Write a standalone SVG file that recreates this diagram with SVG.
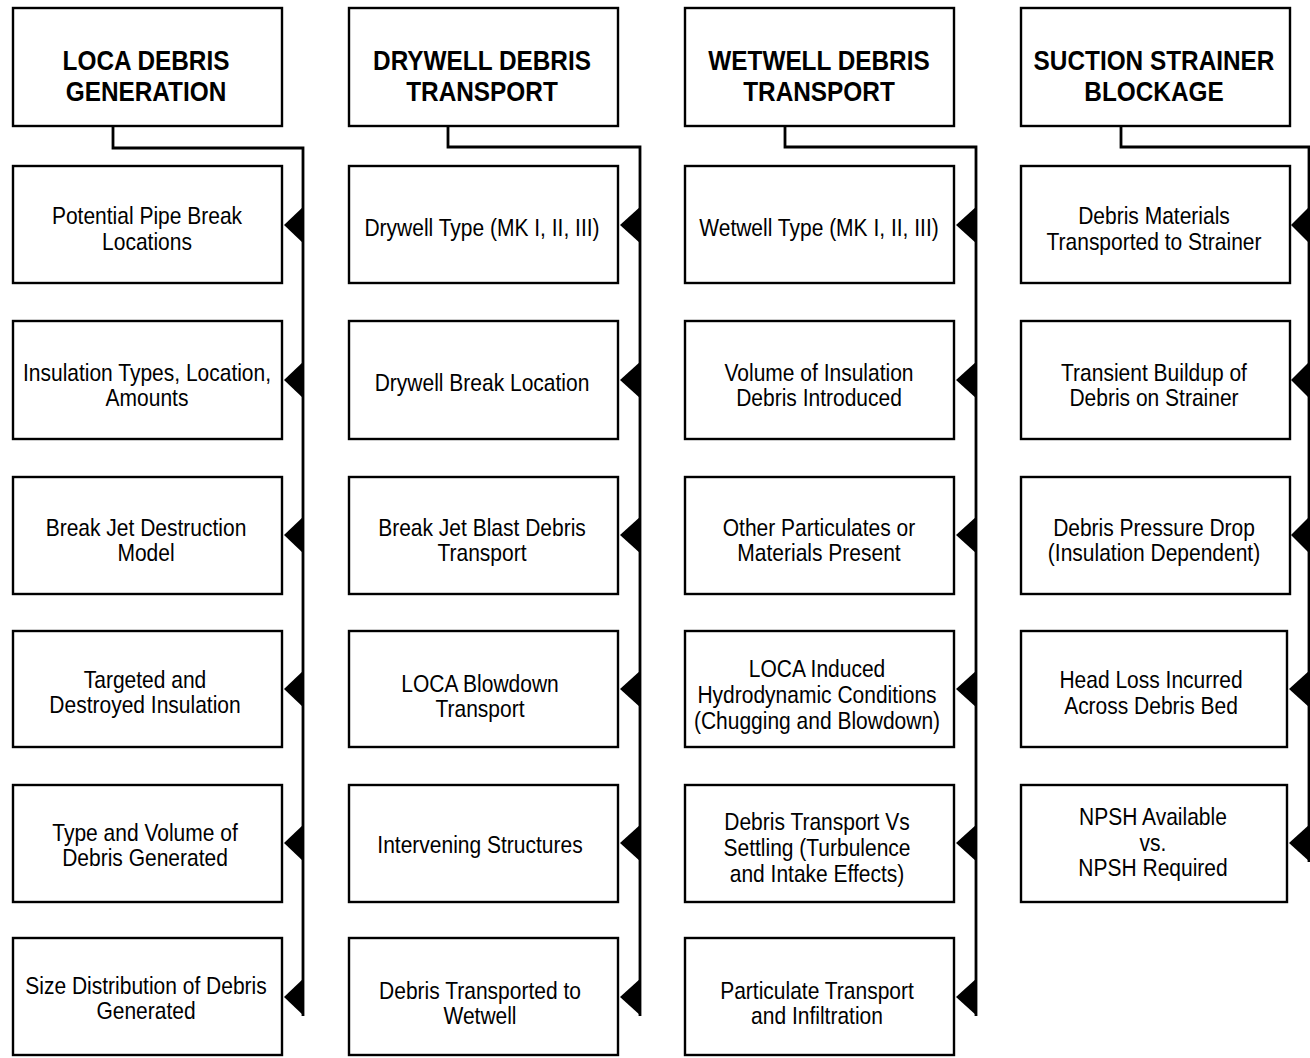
<svg xmlns="http://www.w3.org/2000/svg" width="1310" height="1058" viewBox="0 0 1310 1058">
<style>
.box{fill:#fff;stroke:#000;stroke-width:2.4}
.h{font-family:"Liberation Sans",Arial,sans-serif;font-weight:bold;font-size:28px;text-anchor:middle;fill:#000}
.t{font-family:"Liberation Sans",Arial,sans-serif;font-size:24px;text-anchor:middle;fill:#000}
.c{fill:none;stroke:#000;stroke-width:2.8}
.a{fill:#000}
</style>
<rect width="1310" height="1058" fill="#fff"/>
<g id="connectors">
<path class="c" d="M113,126 V148 H303 V1016"/>
<path class="c" d="M448,126 V147 H640 V1016"/>
<path class="c" d="M785,126 V147 H976 V1016"/>
<path class="c" d="M1121,126 V147 H1309 V862"/>
<g class="a">
<polygon points="284,225 304,206 304,244"/>
<polygon points="284,380 304,361 304,399"/>
<polygon points="284,535 304,516 304,554"/>
<polygon points="284,689 304,670 304,708"/>
<polygon points="284,843 304,824 304,862"/>
<polygon points="284,997 304,978 304,1016"/>
<polygon points="620,225 641,206 641,244"/>
<polygon points="620,380 641,361 641,399"/>
<polygon points="620,535 641,516 641,554"/>
<polygon points="620,689 641,670 641,708"/>
<polygon points="620,843 641,824 641,862"/>
<polygon points="620,997 641,978 641,1016"/>
<polygon points="956,225 977,206 977,244"/>
<polygon points="956,380 977,361 977,399"/>
<polygon points="956,535 977,516 977,554"/>
<polygon points="956,689 977,670 977,708"/>
<polygon points="956,843 977,824 977,862"/>
<polygon points="956,997 977,978 977,1016"/>
<polygon points="1291,225 1310,206 1310,244"/>
<polygon points="1291,380 1310,361 1310,399"/>
<polygon points="1291,535 1310,516 1310,554"/>
<polygon points="1289,689 1310,670 1310,708"/>
<polygon points="1289,843 1310,824 1310,862"/>
</g>
</g>
<!-- Column 1 -->
<g id="h1"><rect class="box" x="13" y="8" width="269" height="118"/>
<text class="h" transform="matrix(0.87 0 0 1 146 0)"><tspan x="0" y="70">LOCA DEBRIS</tspan><tspan x="0" y="101">GENERATION</tspan></text></g>
<g id="n1-1"><rect class="box" x="13" y="166" width="269" height="117"/>
<text class="t" transform="matrix(0.875 0 0 1 147 0)"><tspan x="0" y="224">Potential Pipe Break</tspan><tspan x="0" y="250">Locations</tspan></text></g>
<g id="n1-2"><rect class="box" x="13" y="321" width="269" height="118"/>
<text class="t" transform="matrix(0.875 0 0 1 147 0)"><tspan x="0" y="381">Insulation Types, Location,</tspan><tspan x="0" y="406">Amounts</tspan></text></g>
<g id="n1-3"><rect class="box" x="13" y="477" width="269" height="117"/>
<text class="t" transform="matrix(0.875 0 0 1 146 0)"><tspan x="0" y="536">Break Jet Destruction</tspan><tspan x="0" y="561">Model</tspan></text></g>
<g id="n1-4"><rect class="box" x="13" y="631" width="269" height="116"/>
<text class="t" transform="matrix(0.875 0 0 1 145 0)"><tspan x="0" y="688">Targeted and</tspan><tspan x="0" y="713">Destroyed Insulation</tspan></text></g>
<g id="n1-5"><rect class="box" x="13" y="785" width="269" height="117"/>
<text class="t" transform="matrix(0.875 0 0 1 145 0)"><tspan x="0" y="841">Type and Volume of</tspan><tspan x="0" y="866">Debris Generated</tspan></text></g>
<g id="n1-6"><rect class="box" x="13" y="938" width="269" height="117"/>
<text class="t" transform="matrix(0.875 0 0 1 146 0)"><tspan x="0" y="994">Size Distribution of Debris</tspan><tspan x="0" y="1019">Generated</tspan></text></g>
<!-- Column 2 -->
<g id="h2"><rect class="box" x="349" y="8" width="269" height="118"/>
<text class="h" transform="matrix(0.87 0 0 1 482 0)"><tspan x="0" y="70">DRYWELL DEBRIS</tspan><tspan x="0" y="101">TRANSPORT</tspan></text></g>
<g id="n2-1"><rect class="box" x="349" y="166" width="269" height="117"/>
<text class="t" transform="matrix(0.875 0 0 1 482 0)"><tspan x="0" y="236">Drywell Type (MK I, II, III)</tspan></text></g>
<g id="n2-2"><rect class="box" x="349" y="321" width="269" height="118"/>
<text class="t" transform="matrix(0.875 0 0 1 482 0)"><tspan x="0" y="391">Drywell Break Location</tspan></text></g>
<g id="n2-3"><rect class="box" x="349" y="477" width="269" height="117"/>
<text class="t" transform="matrix(0.875 0 0 1 482 0)"><tspan x="0" y="536">Break Jet Blast Debris</tspan><tspan x="0" y="561">Transport</tspan></text></g>
<g id="n2-4"><rect class="box" x="349" y="631" width="269" height="116"/>
<text class="t" transform="matrix(0.875 0 0 1 480 0)"><tspan x="0" y="692">LOCA Blowdown</tspan><tspan x="0" y="717">Transport</tspan></text></g>
<g id="n2-5"><rect class="box" x="349" y="785" width="269" height="117"/>
<text class="t" transform="matrix(0.875 0 0 1 480 0)"><tspan x="0" y="853">Intervening Structures</tspan></text></g>
<g id="n2-6"><rect class="box" x="349" y="938" width="269" height="117"/>
<text class="t" transform="matrix(0.875 0 0 1 480 0)"><tspan x="0" y="999">Debris Transported to</tspan><tspan x="0" y="1024">Wetwell</tspan></text></g>
<!-- Column 3 -->
<g id="h3"><rect class="box" x="685" y="8" width="269" height="118"/>
<text class="h" transform="matrix(0.87 0 0 1 819 0)"><tspan x="0" y="70">WETWELL DEBRIS</tspan><tspan x="0" y="101">TRANSPORT</tspan></text></g>
<g id="n3-1"><rect class="box" x="685" y="166" width="269" height="117"/>
<text class="t" transform="matrix(0.875 0 0 1 819 0)"><tspan x="0" y="236">Wetwell Type (MK I, II, III)</tspan></text></g>
<g id="n3-2"><rect class="box" x="685" y="321" width="269" height="118"/>
<text class="t" transform="matrix(0.875 0 0 1 819 0)"><tspan x="0" y="381">Volume of Insulation</tspan><tspan x="0" y="406">Debris Introduced</tspan></text></g>
<g id="n3-3"><rect class="box" x="685" y="477" width="269" height="117"/>
<text class="t" transform="matrix(0.875 0 0 1 819 0)"><tspan x="0" y="536">Other Particulates or</tspan><tspan x="0" y="561">Materials Present</tspan></text></g>
<g id="n3-4"><rect class="box" x="685" y="631" width="269" height="116"/>
<text class="t" transform="matrix(0.875 0 0 1 817 0)"><tspan x="0" y="677">LOCA Induced</tspan><tspan x="0" y="703">Hydrodynamic Conditions</tspan><tspan x="0" y="729">(Chugging and Blowdown)</tspan></text></g>
<g id="n3-5"><rect class="box" x="685" y="785" width="269" height="117"/>
<text class="t" transform="matrix(0.875 0 0 1 817 0)"><tspan x="0" y="830">Debris Transport Vs</tspan><tspan x="0" y="856">Settling (Turbulence</tspan><tspan x="0" y="882">and Intake Effects)</tspan></text></g>
<g id="n3-6"><rect class="box" x="685" y="938" width="269" height="117"/>
<text class="t" transform="matrix(0.875 0 0 1 817 0)"><tspan x="0" y="999">Particulate Transport</tspan><tspan x="0" y="1024">and Infiltration</tspan></text></g>
<!-- Column 4 -->
<g id="h4"><rect class="box" x="1021" y="8" width="269" height="118"/>
<text class="h" transform="matrix(0.87 0 0 1 1154 0)"><tspan x="0" y="70">SUCTION STRAINER</tspan><tspan x="0" y="101">BLOCKAGE</tspan></text></g>
<g id="n4-1"><rect class="box" x="1021" y="166" width="269" height="117"/>
<text class="t" transform="matrix(0.875 0 0 1 1154 0)"><tspan x="0" y="224">Debris Materials</tspan><tspan x="0" y="250">Transported to Strainer</tspan></text></g>
<g id="n4-2"><rect class="box" x="1021" y="321" width="269" height="118"/>
<text class="t" transform="matrix(0.875 0 0 1 1154 0)"><tspan x="0" y="381">Transient Buildup of</tspan><tspan x="0" y="406">Debris on Strainer</tspan></text></g>
<g id="n4-3"><rect class="box" x="1021" y="477" width="269" height="117"/>
<text class="t" transform="matrix(0.875 0 0 1 1154 0)"><tspan x="0" y="536">Debris Pressure Drop</tspan><tspan x="0" y="561">(Insulation Dependent)</tspan></text></g>
<g id="n4-4"><rect class="box" x="1021" y="631" width="266" height="116"/>
<text class="t" transform="matrix(0.875 0 0 1 1151 0)"><tspan x="0" y="688">Head Loss Incurred</tspan><tspan x="0" y="714">Across Debris Bed</tspan></text></g>
<g id="n4-5"><rect class="box" x="1021" y="785" width="266" height="117"/>
<text class="t" transform="matrix(0.875 0 0 1 1153 0)"><tspan x="0" y="825">NPSH Available</tspan><tspan x="0" y="851">vs.</tspan><tspan x="0" y="876">NPSH Required</tspan></text></g>
</svg>
